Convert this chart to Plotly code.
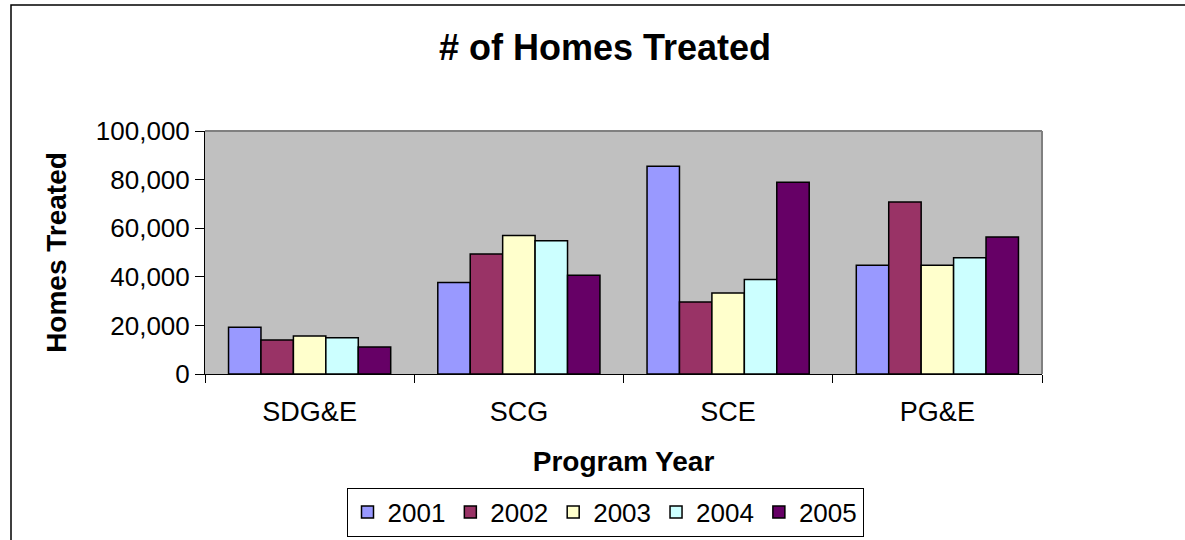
import plotly.graph_objects as go

categories = ["SDG&E", "SCG", "SCE", "PG&E"]
years = ["2001", "2002", "2003", "2004", "2005"]
values_2001 = [19200, 37700, 85500, 44800]
values_2002 = [14000, 49400, 29600, 70800]
values_2003 = [15600, 57000, 33300, 44800]
values_2004 = [14900, 54800, 38900, 47800]
values_2005 = [11100, 40600, 78900, 56400]
series = [values_2001, values_2002, values_2003, values_2004, values_2005]
colors = ["#9999FF", "#993366", "#FFFFCC", "#CCFFFF", "#660066"]
tick_vals = [0, 20000, 40000, 60000, 80000, 100000]
tick_text = ["0", "20,000", "40,000", "60,000", "80,000", "100,000"]

FONT = "Liberation Sans, Arial, sans-serif"

fig = go.Figure()
for name, vals, col in zip(years, series, colors):
    fig.add_trace(go.Bar(
        x=categories, y=vals, name=name,
        marker=dict(color=col, line=dict(color="black", width=1.5)),
    ))

W, H = 1185, 540
l, r, t, b = 205, 143, 131, 166
pw, ph = W - l - r, H - t - b

def px(x):
    return (x - l) / pw

def py(y):
    return (H - b - y) / ph

fig.update_layout(
    width=W, height=H,
    margin=dict(l=l, r=r, t=t, b=b, autoexpand=False),
    paper_bgcolor="white",
    plot_bgcolor="#C0C0C0",
    barmode="group",
    bargap=0.225,
    bargroupgap=0,
    font=dict(family=FONT, color="black", size=26),
    title=dict(text="<b># of Homes Treated</b>", x=605 / W, xanchor="center",
               y=1 - 47 / H, yanchor="middle",
               font=dict(size=36, family=FONT, color="black")),
    legend=dict(orientation="h", x=px(605), xanchor="center",
                y=py(512), yanchor="middle",
                bordercolor="black", borderwidth=1, bgcolor="white",
                font=dict(size=26, family=FONT),
                traceorder="normal", itemwidth=30, tracegroupgap=0),
    showlegend=True,
    shapes=[
        dict(type="rect", xref="paper", yref="paper",
             x0=px(11), x1=px(1200), y0=py(560), y1=py(5),
             line=dict(color="black", width=1.5), fillcolor="rgba(0,0,0,0)",
             layer="below"),
        dict(type="line", xref="paper", yref="paper",
             x0=0, x1=1, y0=1, y1=1, line=dict(color="#808080", width=2)),
        dict(type="line", xref="paper", yref="paper",
             x0=1, x1=1, y0=0, y1=1, line=dict(color="#808080", width=2)),
    ],
)

fig.update_xaxes(
    type="category", automargin=False,
    showline=True, linecolor="black", linewidth=1,
    ticks="outside", tickson="boundaries", ticklen=8, tickcolor="black",
    tickfont=dict(size=27, family=FONT),
    ticklabelstandoff=14,
    title=dict(text="<b>Program Year</b>", font=dict(size=28, family=FONT), standoff=24),
    showgrid=False, zeroline=False,
)
fig.update_yaxes(
    range=[0, 100000], automargin=False,
    tickvals=tick_vals, ticktext=tick_text,
    showline=True, linecolor="black", linewidth=1,
    ticks="outside", ticklen=9, tickcolor="black",
    tickfont=dict(size=26, family=FONT),
    title=dict(text="<b>Homes Treated</b>", font=dict(size=28, family=FONT), standoff=21),
    showgrid=False, zeroline=False,
)

fig.write_html("out.html", config={"displayModeBar": False},
               post_script="document.body.style.margin='0';")
